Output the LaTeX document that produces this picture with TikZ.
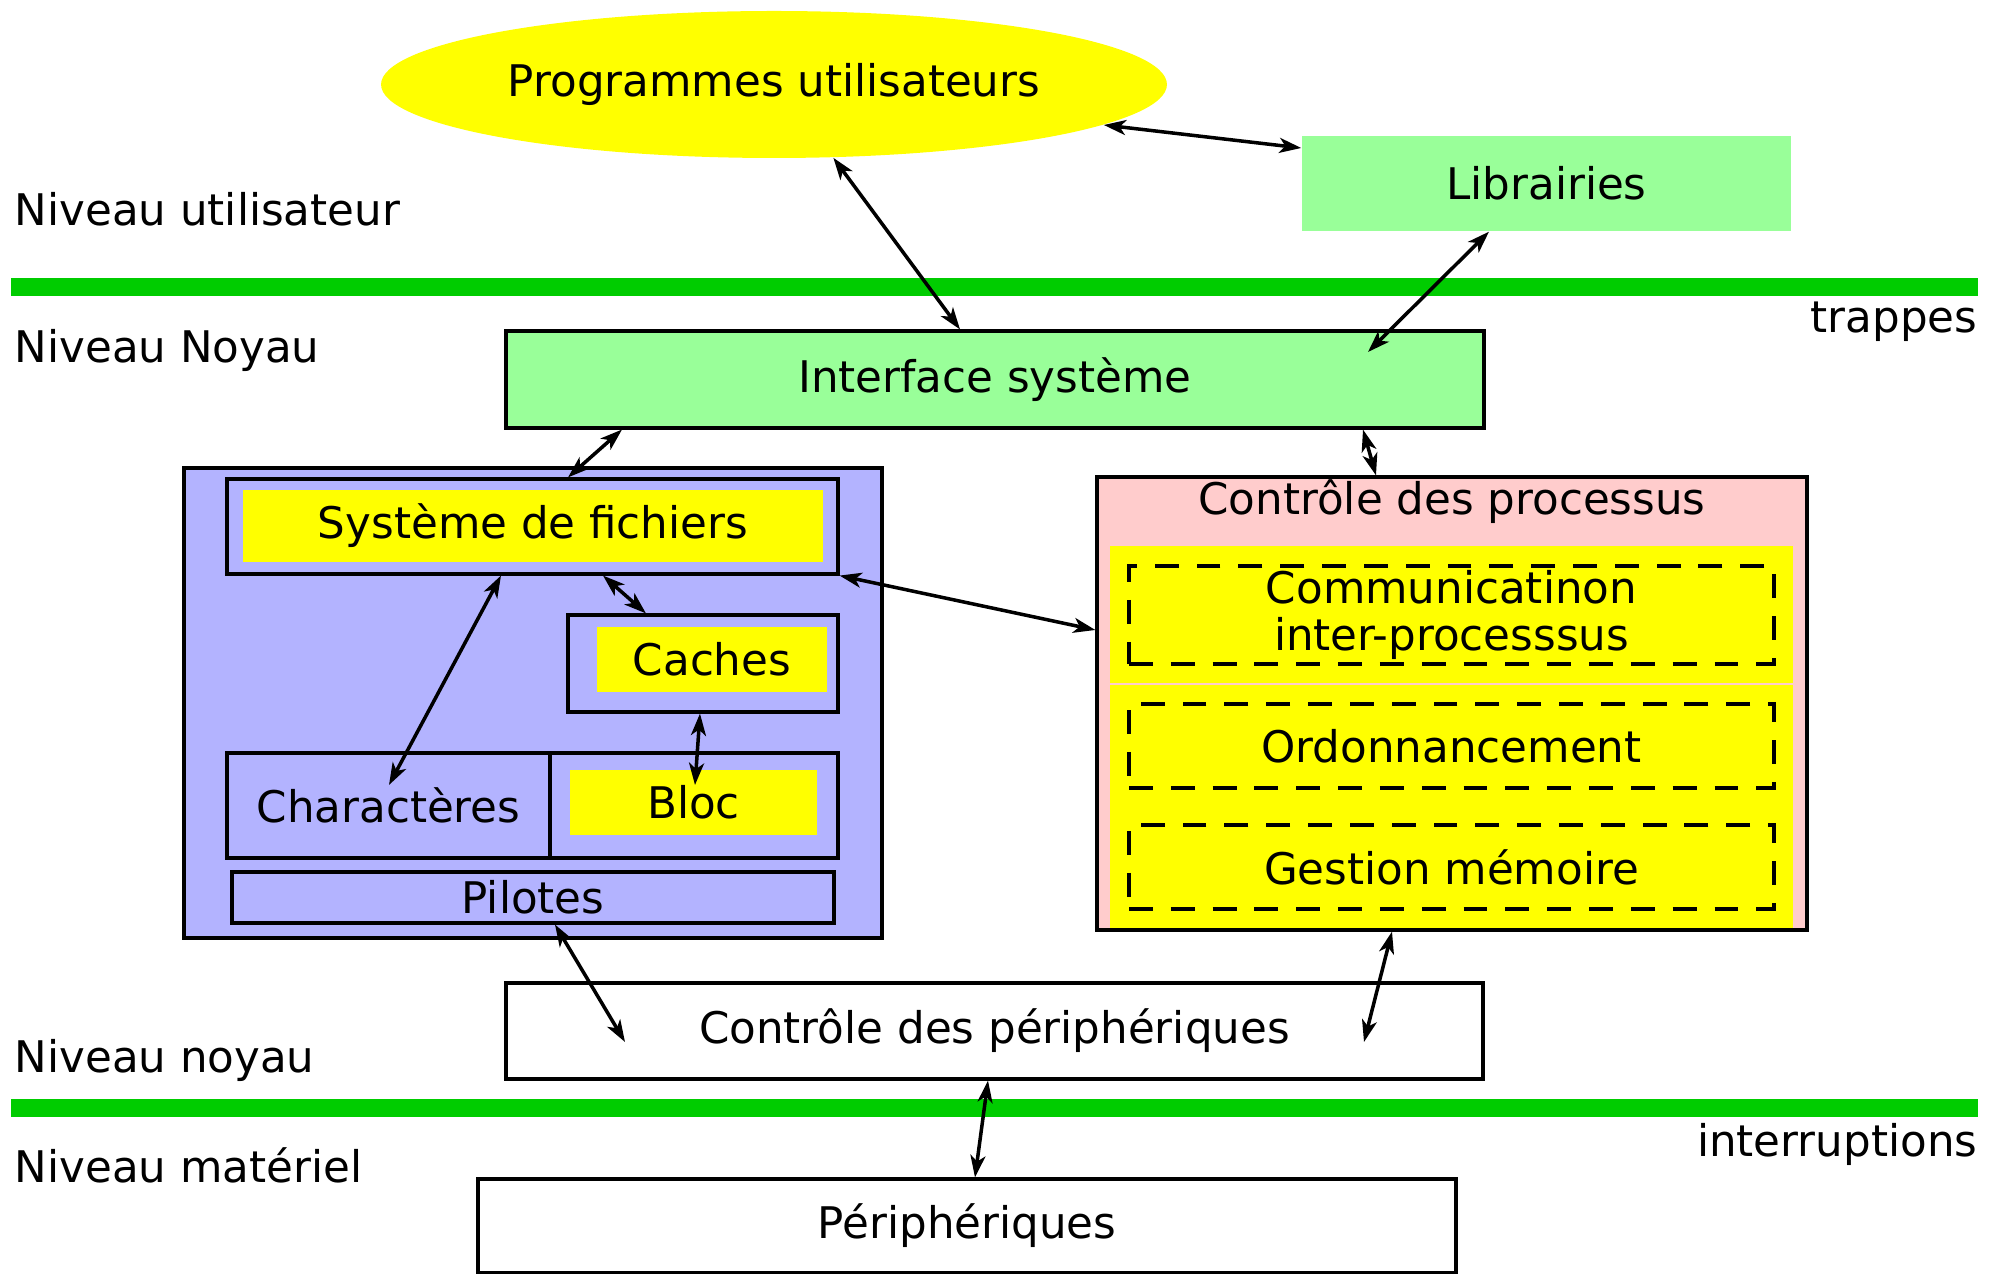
\documentclass[tikz,border=0pt]{standalone}
\usepackage{fontspec}
\setmainfont{DejaVu Sans}
\usetikzlibrary{arrows.meta,shapes.geometric}
\definecolor{levelgreen}{RGB}{0,204,0}
\definecolor{ifacegreen}{RGB}{153,255,153}
\definecolor{fsblue}{RGB}{179,179,255}
\definecolor{procpink}{RGB}{255,204,204}
\definecolor{hiyellow}{RGB}{255,255,0}
\tikzset{
	box/.style={draw, line width=0.9pt, inner sep=1pt},
	hilite/.style={fill=hiyellow, inner sep=1pt},
	procpart/.style={draw, line width=1.1pt, dash pattern=on 6.8pt off 5.1pt, inner sep=1pt, align=center},
	level/.style={levelgreen, line width=0.18cm},
	levellabel/.style={inner sep=0pt},
	link/.style={<->, line width=1pt},
}
\begin{document}
\begin{tikzpicture}[font=\fontsize{12.4}{13.2}\selectfont, >={Stealth[length=2.2mm,width=1.5mm,inset=0.6mm]}]
				\useasboundingbox (0,0) rectangle (19.99,-12.74);
				% niveaux
				\draw [level] (0.11,-2.87) -- (19.78,-2.87);
				\draw [level] (0.11,-11.08) -- (19.78,-11.08);
				\node [levellabel, anchor=base west] (nuser) at (0.14,-2.26) {Niveau utilisateur};
				\node [levellabel, anchor=base west] (nkern) at (0.14,-3.63) {Niveau Noyau};
				\node [levellabel, anchor=base east] (trap) at (19.78,-3.33) {trappes};
				\node [levellabel, anchor=base west] (nkern2) at (0.14,-10.73) {Niveau noyau};
				\node [levellabel, anchor=base east] (intr) at (19.78,-11.57) {interruptions};
				\node [levellabel, anchor=base west] (nhw) at (0.14,-11.83) {Niveau matériel};
				
				% espace utilisateur
				\node [ellipse, fill=hiyellow, minimum width=7.74cm, minimum height=1.47cm] (prog) at (7.74,-0.845) {Programmes utilisateurs};
				\node [fill=ifacegreen, minimum width=4.89cm, minimum height=0.95cm] (lib) at (15.465,-1.835) {Librairies};
				\node [box, fill=ifacegreen, minimum width=9.78cm, minimum height=0.97cm] (iface) at (9.95,-3.795) {Interface système};
				
				% fichiers
				\node [box, fill=fsblue, minimum width=6.98cm, minimum height=4.70cm] (fsys) at (5.33,-7.03) {};
				\node [box, fill=fsblue, minimum width=6.11cm, minimum height=0.95cm] (sf) at (5.325,-5.265) {};
				\node [hilite, minimum width=5.80cm, minimum height=0.72cm] (sfin) at (5.33,-5.26) {Système de fichiers};
				\node [box, minimum width=2.70cm, minimum height=0.97cm] (caches) at (7.03,-6.635) {};
				\node [hilite, minimum width=2.30cm, minimum height=0.65cm] (cachesin) at (7.12,-6.595) {Caches};
				\node [box, minimum width=3.23cm, minimum height=1.05cm] (chars) at (3.885,-8.055) {Charactères};
				\node [box, minimum width=2.88cm, minimum height=1.05cm] (bloc) at (6.94,-8.055) {};
				\node [hilite, minimum width=2.47cm, minimum height=0.65cm] (blocin) at (6.935,-8.025) {Bloc};
				\node [box, minimum width=6.02cm, minimum height=0.51cm, inner sep=0pt] (pilotes) at (5.33,-8.975) {Pilotes};
				
				% processus
				\node [box, fill=procpink, minimum width=7.10cm, minimum height=4.53cm] (proc) at (14.52,-7.035) {};
				\fill [hiyellow] (11.10,-5.46) rectangle (17.93,-6.83);
				\fill [hiyellow] (11.10,-6.85) rectangle (17.93,-9.28);
				\node (proctitle) at (14.52,-5.02) {Contrôle des processus};
				\node [procpart, minimum width=6.45cm, minimum height=0.98cm] (ipc) at (14.515,-6.15) {Communicatinon\\inter-processsus};
				\node [procpart, minimum width=6.45cm, minimum height=0.84cm] (ordo) at (14.515,-7.46) {Ordonnancement};
				\node [procpart, minimum width=6.45cm, minimum height=0.84cm] (mem) at (14.515,-8.67) {Gestion mémoire};
				
				% materiel
				\node [box, minimum width=9.77cm, minimum height=0.96cm] (ctrlper) at (9.945,-10.31) {Contrôle des périphériques};
				\node [box, minimum width=9.78cm, minimum height=0.94cm] (periph) at (9.67,-12.26) {Périphériques};
				
				\coordinate (ifacein) at (13.68,-3.52);
				\coordinate (charsin) at (3.89,-7.85);
				\coordinate (blocpt) at (6.95,-7.85);
				\coordinate (ctrlL) at (6.25,-10.42);
				\coordinate (ctrlR) at (13.64,-10.42);
				
				\draw [link] (prog.-7) -- (lib.west |- 0,-1.48);
				\draw [link] (prog.-51) -- (iface.north -| 9.60,0);
				\draw [link] (lib.south -| 14.89,0) -- (ifacein);
				\draw [link] (iface.south -| 6.22,0) -- (sf.north -| 5.68,0);
				\draw [link] (iface.south -| 13.63,0) -- (proc.north -| 13.76,0);
				\draw [link] (sf.south -| 5.01,0) -- (charsin);
				\draw [link] (sf.south -| 6.03,0) -- (caches.north -| 6.46,0);
				\draw [link] (caches.south -| 7.00,0) -- (blocpt);
				\draw [link] (sf.south east) -- (proc.west |- 0,-6.30);
				\draw [link] (pilotes.south -| 5.55,0) -- (ctrlL);
				\draw [link] (proc.south -| 13.92,0) -- (ctrlR);
				\draw [link] (ctrlper.south -| 9.88,0) -- (periph.north -| 9.75,0);
			\end{tikzpicture}
\end{document}
